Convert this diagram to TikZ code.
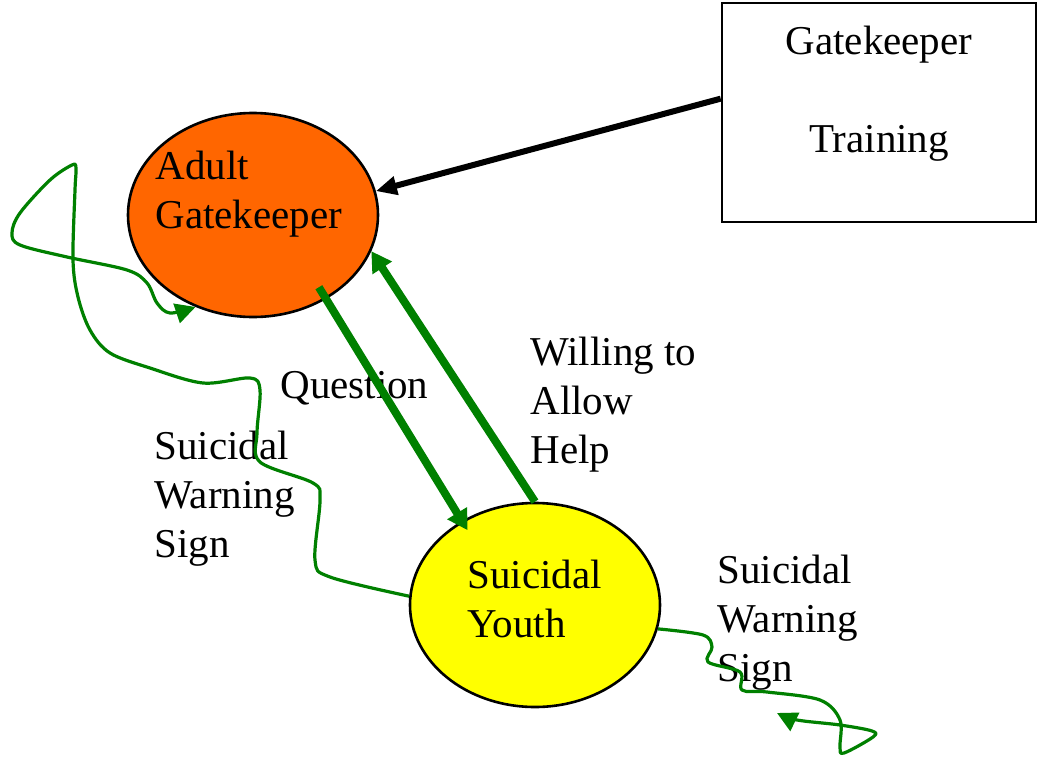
\documentclass[tikz,border=0pt]{standalone}
\usepackage{fontspec}
\setmainfont{Liberation Serif}
\usepackage{tikz}
\usetikzlibrary{shapes,arrows.meta}
\usepackage{xcolor}
\definecolor{gkorange}{RGB}{255,102,0}
\definecolor{youthyellow}{RGB}{255,255,0}
\definecolor{signgreen}{RGB}{0,128,0}

\tikzset{
	person/.style={ellipse,draw=black,line width=1.3pt,minimum width=125pt,minimum height=102pt,inner sep=0pt},
	lbl/.style={align=left,inner sep=0pt,anchor=base west,font=\fontsize{20.5}{24.5}\selectfont},
	talk/.style={signgreen,line width=4pt,-{Triangle[length=10pt,width=11pt]}},
	sign/.style={signgreen,line width=1.6pt,line join=round,-{Triangle[length=10pt,width=10pt]}},
}

\begin{document}
\begin{tikzpicture}[x=0.5pt,y=-0.5pt]
		\useasboundingbox (0,0) rectangle (1041,761);
		% the two people (text nodes sit on their last line)
		\node[person,fill=gkorange] (adult) at (253,215) {};
		\node[person,fill=youthyellow] (youth) at (535,605) {};
		\node[lbl] (adultText) at (155,228) {Adult\\Gatekeeper};
		\node[lbl] (youthText) at (467,637) {Suicidal\\Youth};
		% training box
		\node[draw,line width=1.3pt,minimum width=157pt,minimum height=109.5pt,inner sep=0pt] (training) at (879,112.5) {};
		\node[lbl,align=center,anchor=base] (trainingText) at (879,152) {Gatekeeper\\[24.5pt]Training};
		% labels
		\node[lbl] (question) at (280,398) {Question};
		\node[lbl] (willing) at (530,463) {Willing to\\Allow\\Help};
		\node[lbl] (signLeft) at (154,557) {Suicidal\\Warning\\Sign};
		\node[lbl] (signRight) at (717,681) {Suicidal\\Warning\\Sign};
		% arrows
		\draw[line width=3pt,-{Triangle[length=10.5pt,width=9pt]}] (training.175) -- (adult.11);
		\draw[talk,shorten <=-7pt,shorten >=-5.5pt] (adult.-49) -- (youth.131);
		\draw[talk] (youth.north) -- (adult.-17);
		% warning signs
		\coordinate (signEnd) at (777,713);
		\draw[sign] plot[smooth,tension=0.55] coordinates {(youth.176) (330,577) (315,560) (320,500) (313,483)
			(260,462) (257,433) (260,390) (250,378) (203,383) (150,368) (110,353) (90,330) (78,297)
			(73,260) (75,190) (76,168) (72,165) (50,180) (20,213) (12,233) (20,245) (67,257)
			(127,270) (147,283) (157,303) (170,313) (adult.238)};
		\draw[sign] plot[smooth,tension=0.55] coordinates {(youth.-11) (703,635) (712,647) (708,662)
			(740,672) (742,690) (767,692) (820,700) (840,720) (840,747) (844,753) (873,737)
			(872,731) (840,725) (797,720) (signEnd)};
\end{tikzpicture}
\end{document}
